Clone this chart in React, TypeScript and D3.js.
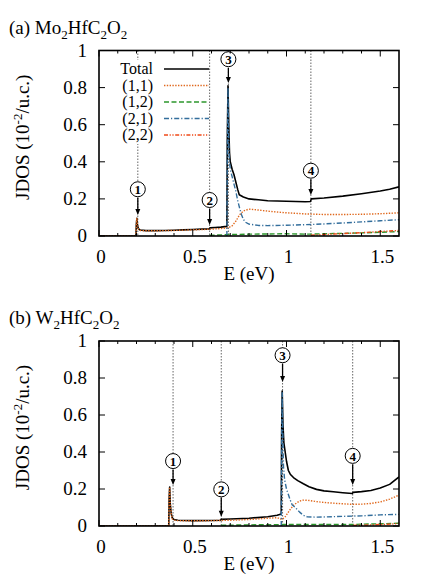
import React from 'react';
import * as d3 from 'd3';

type P = [number, number];

// ---------- axis ticks ----------
const xTicks = [0, 0.5, 1, 1.5];
const xTickLabels = ['0', '0.5', '1', '1.5'];
const xMinorTicks = [0.1, 0.2, 0.3, 0.4, 0.6, 0.7, 0.8, 0.9, 1.1, 1.2, 1.3, 1.4];
const yTicks = [0, 0.2, 0.4, 0.6, 0.8, 1];
const yTickLabels = ['0', '0.2', '0.4', '0.6', '0.8', '1'];

// ---------- legend ----------
const seriesNames = ['Total', '(1,1)', '(1,2)', '(2,1)', '(2,2)'];
const seriesColors = ['#000000', '#e0691e', '#2c962c', '#336e9c', '#f04a18'];
const seriesDash = ['', '1.4,1.4', '5,2.5', '5,2,1.2,2', '4,1.6,1.2,1.6,1.2,1.6'];

// ---------- panel (a) Mo2HfC2O2 ----------
const aTotal: P[] = [[0, 0], [0.197, 0], [0.199, 0.06], [0.202, 0.095], [0.205, 0.06], [0.21, 0.04], [0.22, 0.032], [0.25, 0.029], [0.3, 0.029], [0.35, 0.03], [0.4, 0.031], [0.45, 0.033], [0.5, 0.035], [0.55, 0.037], [0.588, 0.038], [0.592, 0.044], [0.62, 0.046], [0.65, 0.048], [0.682, 0.052], [0.684, 0.5], [0.688, 0.81], [0.692, 0.6], [0.696, 0.45], [0.7, 0.4], [0.71, 0.36], [0.72, 0.33], [0.73, 0.29], [0.74, 0.25], [0.748, 0.222], [0.77, 0.21], [0.8, 0.2], [0.85, 0.195], [0.9, 0.19], [1.0, 0.187], [1.1, 0.185], [1.128, 0.186], [1.132, 0.2], [1.2, 0.205], [1.3, 0.215], [1.4, 0.228], [1.5, 0.243], [1.55, 0.252], [1.6, 0.265]];
const a11: P[] = [[0, 0], [0.197, 0], [0.199, 0.06], [0.202, 0.095], [0.205, 0.06], [0.21, 0.038], [0.22, 0.03], [0.25, 0.028], [0.3, 0.028], [0.4, 0.03], [0.5, 0.033], [0.58, 0.036], [0.65, 0.04], [0.69, 0.045], [0.71, 0.055], [0.73, 0.08], [0.75, 0.115], [0.77, 0.135], [0.8, 0.145], [0.85, 0.14], [0.9, 0.134], [1.0, 0.125], [1.1, 0.119], [1.2, 0.116], [1.3, 0.116], [1.4, 0.117], [1.5, 0.12], [1.6, 0.125]];
const a12: P[] = [[0.59, 0.004], [0.65, 0.006], [0.7, 0.008], [0.8, 0.01], [0.9, 0.011], [1.0, 0.012], [1.1, 0.01], [1.13, 0.01], [1.2, 0.012], [1.3, 0.014], [1.4, 0.017], [1.5, 0.02], [1.6, 0.024]];
const a21: P[] = [[0.682, 0], [0.684, 0.4], [0.688, 0.8], [0.692, 0.5], [0.696, 0.4], [0.7, 0.36], [0.71, 0.32], [0.72, 0.28], [0.73, 0.24], [0.74, 0.19], [0.75, 0.15], [0.76, 0.115], [0.77, 0.09], [0.78, 0.075], [0.8, 0.064], [0.85, 0.057], [0.9, 0.056], [1.0, 0.058], [1.1, 0.061], [1.2, 0.065], [1.3, 0.07], [1.4, 0.076], [1.5, 0.082], [1.6, 0.088]];
const a22: P[] = [[1.13, 0.004], [1.2, 0.008], [1.3, 0.013], [1.4, 0.018], [1.5, 0.024], [1.6, 0.03]];
const aMarkE = [0.207, 0.59, 0.69, 1.13];
const aLabelV = [0.252, 0.194, 0.953, 0.352];
const aTipV = [0.113, 0.059, 0.825, 0.221];

// ---------- panel (b) W2HfC2O2 ----------
const bTotal: P[] = [[0, 0], [0.372, 0], [0.374, 0.15], [0.377, 0.21], [0.38, 0.12], [0.385, 0.07], [0.39, 0.045], [0.4, 0.035], [0.42, 0.031], [0.5, 0.029], [0.6, 0.03], [0.648, 0.031], [0.652, 0.036], [0.7, 0.038], [0.8, 0.042], [0.9, 0.05], [0.95, 0.058], [0.972, 0.065], [0.974, 0.5], [0.977, 0.73], [0.981, 0.55], [0.986, 0.45], [0.993, 0.4], [1.0, 0.35], [1.01, 0.3], [1.02, 0.28], [1.037, 0.262], [1.06, 0.245], [1.09, 0.228], [1.12, 0.212], [1.16, 0.198], [1.2, 0.19], [1.25, 0.185], [1.3, 0.18], [1.351, 0.176], [1.355, 0.182], [1.4, 0.186], [1.45, 0.192], [1.5, 0.205], [1.55, 0.225], [1.6, 0.265]];
const b11: P[] = [[0, 0], [0.372, 0], [0.374, 0.15], [0.377, 0.21], [0.38, 0.12], [0.385, 0.07], [0.39, 0.04], [0.4, 0.032], [0.42, 0.029], [0.5, 0.028], [0.6, 0.029], [0.7, 0.031], [0.8, 0.035], [0.9, 0.042], [0.95, 0.045], [0.975, 0.035], [0.99, 0.045], [1.0, 0.06], [1.02, 0.09], [1.04, 0.115], [1.07, 0.135], [1.09, 0.14], [1.12, 0.138], [1.16, 0.132], [1.2, 0.127], [1.27, 0.122], [1.35, 0.117], [1.4, 0.118], [1.45, 0.122], [1.5, 0.13], [1.55, 0.145], [1.6, 0.167]];
const b12: P[] = [[0.652, 0.004], [0.8, 0.006], [1.0, 0.008], [1.2, 0.008], [1.35, 0.008], [1.4, 0.01], [1.5, 0.012], [1.6, 0.015]];
const b21: P[] = [[0.972, 0], [0.974, 0.45], [0.977, 0.72], [0.981, 0.45], [0.984, 0.32], [0.99, 0.25], [1.0, 0.2], [1.01, 0.17], [1.02, 0.14], [1.03, 0.115], [1.047, 0.1], [1.07, 0.075], [1.09, 0.058], [1.11, 0.05], [1.15, 0.048], [1.2, 0.049], [1.3, 0.052], [1.4, 0.055], [1.5, 0.06], [1.6, 0.063]];
const b22: P[] = [[1.355, 0.003], [1.45, 0.006], [1.55, 0.01], [1.6, 0.014]];
const bMarkE = [0.395, 0.652, 0.979, 1.353];
const bLabelV = [0.351, 0.198, 0.923, 0.379];
const bTipV = [0.221, 0.05, 0.779, 0.221];

const markLabels = ['1', '2', '3', '4'];

const FONT = '"Liberation Serif", "Times New Roman", serif';

interface PanelProps {
  id: string;
  top: number;
  bottom: number;
  letter: string;
  metal: string;
  titleY: number;
  series: P[][];
  markE: number[];
  labelV: number[];
  tipV: number[];
  legend: boolean;
}

function Panel(p: PanelProps) {
  const x = d3.scaleLinear().domain([0, 1.6]).range([99, 399]);
  const y = d3.scaleLinear().domain([0, 1]).range([p.bottom, p.top]);
  const line = d3.line<P>().x(d => x(d[0])).y(d => y(d[1]));
  const clipId = 'clip-' + p.id;
  const majorLen = 6;
  const minorLen = 3;
  return (
    <g>
      <defs>
        <clipPath id={clipId}>
          <rect x={x(0)} y={y(1)} width={x(1.6) - x(0)} height={y(0) - y(1)} />
        </clipPath>
      </defs>
      {/* title */}
      <text x={9} y={p.titleY} fontSize={19} fontFamily={FONT}>
        {p.letter + ' ' + p.metal}
        <tspan fontSize={13} dy={5}>2</tspan>
        <tspan dy={-5}>HfC</tspan>
        <tspan fontSize={13} dy={5}>2</tspan>
        <tspan dy={-5}>O</tspan>
        <tspan fontSize={13} dy={5}>2</tspan>
      </text>
      {/* y-axis label */}
      <text transform={`translate(29,${(p.top + p.bottom) / 2 - 6}) rotate(-90)`} textAnchor="middle" fontSize={19} fontFamily={FONT}>
        JDOS (10<tspan fontSize={13} dy={-7}>-2</tspan><tspan dy={7}>/u.c.)</tspan>
      </text>
      {/* x-axis label */}
      <text x={(x(0) + x(1.6)) / 2} y={p.bottom + 44} textAnchor="middle" fontSize={19} fontFamily={FONT}>E (eV)</text>
      {/* tick labels */}
      {xTicks.map((t, i) => (
        <text key={'xl' + i} x={x(t) + 2} y={p.bottom + 27} textAnchor="middle" fontSize={19} fontFamily={FONT}>{xTickLabels[i]}</text>
      ))}
      {yTicks.map((t, i) => (
        <text key={'yl' + i} x={87} y={y(t)} dy="0.34em" textAnchor="end" fontSize={19} fontFamily={FONT}>{yTickLabels[i]}</text>
      ))}
      {/* vertical dotted marker lines */}
      {p.markE.map((e, i) => (
        <line key={'vl' + i} x1={x(e)} x2={x(e)} y1={y(1)} y2={y(0)} stroke="#555" strokeWidth={0.9} strokeDasharray="1.5,1.5" />
      ))}
      {/* legend */}
      {p.legend && (
        <g>
          <rect x={114} y={60} width={93} height={84} fill="#fff" />
          {seriesNames.map((n, i) => (
            <g key={'lg' + i}>
              <text x={153} y={69 + i * 16.5} dy="0.34em" textAnchor="end" fontSize={16} fontFamily={FONT}>{n}</text>
              <line x1={164} x2={209} y1={69 + i * 16.5} y2={69 + i * 16.5} stroke={seriesColors[i]} strokeWidth={1.5} strokeDasharray={seriesDash[i] || undefined} />
            </g>
          ))}
        </g>
      )}
      {/* curves */}
      <g clipPath={`url(#${clipId})`}>
        {p.series.map((s, i) => (
          <path key={'s' + i} d={line(s) || ''} fill="none" stroke={seriesColors[i]} strokeWidth={i === 0 ? 1.6 : 1.4} strokeDasharray={seriesDash[i] || undefined} strokeLinejoin="round" />
        ))}
      </g>
      {/* annotations */}
      {p.markE.map((e, i) => {
        const cx = x(e);
        const cy = y(p.labelV[i]);
        const tipY = y(p.tipV[i]);
        return (
          <g key={'an' + i}>
            <circle cx={cx} cy={cy} r={7.5} fill="#fff" stroke="#000" strokeWidth={1} />
            <text x={cx} y={cy} dy="0.36em" textAnchor="middle" fontSize={13} fontWeight="bold" fontFamily={FONT}>{markLabels[i]}</text>
            <line x1={cx} x2={cx} y1={cy + 8.5} y2={tipY - 5} stroke="#000" strokeWidth={1.3} />
            <path d={`M${cx - 2.5},${tipY - 6} L${cx + 2.5},${tipY - 6} L${cx},${tipY} Z`} fill="#000" />
          </g>
        );
      })}
      {/* ticks */}
      {xTicks.map((t, i) => (
        <g key={'xt' + i}>
          <line x1={x(t)} x2={x(t)} y1={y(0)} y2={y(0) - majorLen} stroke="#000" strokeWidth={1} />
          <line x1={x(t)} x2={x(t)} y1={y(1)} y2={y(1) + majorLen} stroke="#000" strokeWidth={1} />
        </g>
      ))}
      {xMinorTicks.map((t, i) => (
        <g key={'xm' + i}>
          <line x1={x(t)} x2={x(t)} y1={y(0)} y2={y(0) - minorLen} stroke="#000" strokeWidth={1} />
          <line x1={x(t)} x2={x(t)} y1={y(1)} y2={y(1) + minorLen} stroke="#000" strokeWidth={1} />
        </g>
      ))}
      {yTicks.map((t, i) => (
        <g key={'yt' + i}>
          <line x1={x(0)} x2={x(0) + majorLen} y1={y(t)} y2={y(t)} stroke="#000" strokeWidth={1} />
          <line x1={x(1.6)} x2={x(1.6) - majorLen} y1={y(t)} y2={y(t)} stroke="#000" strokeWidth={1} />
        </g>
      ))}
      {/* frame */}
      <rect x={x(0)} y={y(1)} width={x(1.6) - x(0)} height={y(0) - y(1)} fill="none" stroke="#000" strokeWidth={1.6} />
    </g>
  );
}

export default function App() {
  return (
    <svg width={436} height={581} style={{ position: 'absolute', left: 0, top: 0, background: '#fff' }}>
      <rect x={0} y={0} width={436} height={581} fill="#fff" />
      <Panel id="a" top={50.5} bottom={236} letter="(a)" metal="Mo" titleY={34}
        series={[aTotal, a11, a12, a21, a22]} markE={aMarkE} labelV={aLabelV} tipV={aTipV} legend={true} />
      <Panel id="b" top={341} bottom={526} letter="(b)" metal="W" titleY={324}
        series={[bTotal, b11, b12, b21, b22]} markE={bMarkE} labelV={bLabelV} tipV={bTipV} legend={false} />
    </svg>
  );
}
